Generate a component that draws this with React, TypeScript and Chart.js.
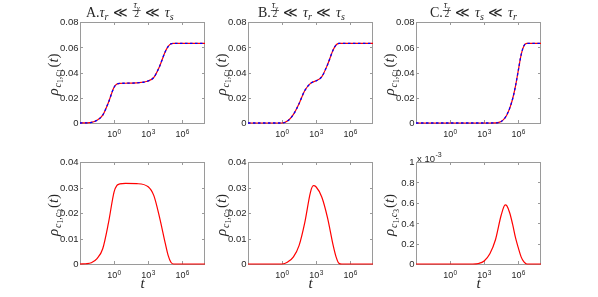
import React, { useEffect, useRef } from "react";
import { Chart, registerables } from "chart.js";

Chart.register(...registerables);

const W = 598;
const H = 297;
const SERIF = '"Liberation Serif", "DejaVu Serif", serif';
const SANS = '"Liberation Sans", Arial, sans-serif';

// ---------- data ----------
// time points (t) per column
const tA = [1e-3, 3.16e-3, 1e-2, 3.16e-2, 0.1, 0.316, 1, 1.78, 3.16, 10, 100, 1e3, 3.16e3, 1e4, 3.16e4, 5.62e4, 1e5, 1.78e5, 3.16e5, 1e6, 1e8];
const tB = [1e-3, 1, 3.16, 10, 31.6, 100, 316, 562, 1e3, 3.16e3, 1e4, 3.16e4, 5.62e4, 1e5, 1.78e5, 3.16e5, 1e8];
const tC = [1e-3, 100, 316, 1e3, 3.16e3, 1e4, 3.16e4, 7.08e4, 1e5, 1.78e5, 3.16e5, 5.62e5, 1e6, 1.78e6, 3.16e6, 5.62e6, 1e7, 1e8];

// rho_{c1,c1}(t)
const rhoA11 = [0, 0.0001, 0.0005, 0.0022, 0.0062, 0.0162, 0.0283, 0.0308, 0.0314, 0.0315, 0.0318, 0.0333, 0.0362, 0.0448, 0.0565, 0.0605, 0.0627, 0.0631, 0.0631, 0.0631, 0.0631];
const rhoB11 = [0, 0, 0.0017, 0.0068, 0.0154, 0.0258, 0.0314, 0.0326, 0.0334, 0.0368, 0.0462, 0.058, 0.0618, 0.063, 0.0631, 0.0631, 0.0631];
const rhoC11 = [0, 0, 0, 0, 0, 0.0001, 0.0012, 0.0043, 0.0065, 0.0118, 0.019, 0.029, 0.0415, 0.054, 0.0612, 0.063, 0.0631, 0.0631];

// rho_{c1,c3}(t)
const rhoA13 = [0, 0.0001, 0.0005, 0.0021, 0.006, 0.016, 0.0283, 0.0308, 0.0314, 0.0316, 0.0315, 0.0303, 0.0268, 0.0183, 0.0082, 0.0035, 0.0007, 0, 0, 0, 0];
const rhoB13 = [0, 0, 0.0008, 0.0028, 0.0073, 0.0163, 0.0282, 0.0307, 0.0302, 0.0262, 0.0181, 0.0072, 0.0028, 0.0003, 0, 0, 0];
const rhoC13 = [0, 0, 0.000005, 0.00003, 0.0001, 0.00024, 0.00048, 0.00058, 0.00057, 0.0005, 0.00039, 0.00026, 0.00016, 0.00007, 0.00002, 0, 0, 0];

// axes
const xMin = 1e-3;
const xMax = 1e8;
const xTickValues = [1, 1e3, 1e6];
const xTickExponents = ["0", "3", "6"];
const yTicksTop = [0, 0.02, 0.04, 0.06, 0.08];
const yTickLabelsTop = ["0", "0.02", "0.04", "0.06", "0.08"];
const yTicksBottom = [0, 0.01, 0.02, 0.03, 0.04];
const yTickLabelsBottom = ["0", "0.01", "0.02", "0.03", "0.04"];
const yTicksBottomC = [0, 0.0002, 0.0004, 0.0006, 0.0008, 0.001];
const yTickLabelsBottomC = ["0", "0.2", "0.4", "0.6", "0.8", "1"];

const titleA = ["A.", "tau_r", "ll", "frac", "ll", "tau_s"];
const titleB = ["B.", "frac", "ll", "tau_r", "ll", "tau_s"];
const titleC = ["C.", "frac", "ll", "tau_s", "ll", "tau_r"];

type Panel = {
  l: number; t: number; r: number; b: number;
  times: number[];
  values: number[];
  dual: boolean;
  yMax: number;
  yTicks: number[];
  yTickLabels: string[];
  title?: string[];
  titleX?: number;
  subIndex: string;
  xlabel: boolean;
  exponent?: string;
};

const TOP_T = 22, TOP_B = 123, BOT_T = 162, BOT_B = 264;
const COLS = [[80, 205], [248, 373], [416, 541]];

const panels: Panel[] = [
  { l: COLS[0][0], r: COLS[0][1], t: TOP_T, b: TOP_B, times: tA, values: rhoA11, dual: true, yMax: 0.08, yTicks: yTicksTop, yTickLabels: yTickLabelsTop, title: titleA, titleX: 86, subIndex: "1", xlabel: false },
  { l: COLS[1][0], r: COLS[1][1], t: TOP_T, b: TOP_B, times: tB, values: rhoB11, dual: true, yMax: 0.08, yTicks: yTicksTop, yTickLabels: yTickLabelsTop, title: titleB, titleX: 258, subIndex: "1", xlabel: false },
  { l: COLS[2][0], r: COLS[2][1], t: TOP_T, b: TOP_B, times: tC, values: rhoC11, dual: true, yMax: 0.08, yTicks: yTicksTop, yTickLabels: yTickLabelsTop, title: titleC, titleX: 430, subIndex: "1", xlabel: false },
  { l: COLS[0][0], r: COLS[0][1], t: BOT_T, b: BOT_B, times: tA, values: rhoA13, dual: false, yMax: 0.04, yTicks: yTicksBottom, yTickLabels: yTickLabelsBottom, subIndex: "3", xlabel: true },
  { l: COLS[1][0], r: COLS[1][1], t: BOT_T, b: BOT_B, times: tB, values: rhoB13, dual: false, yMax: 0.04, yTicks: yTicksBottom, yTickLabels: yTickLabelsBottom, subIndex: "3", xlabel: true },
  { l: COLS[2][0], r: COLS[2][1], t: BOT_T, b: BOT_B, times: tC, values: rhoC13, dual: false, yMax: 0.001, yTicks: yTicksBottomC, yTickLabels: yTickLabelsBottomC, subIndex: "3", xlabel: true, exponent: "-3" },
];

const TEXT = "#262626";
const FRAME = "#9a9a9a";

function seg(ctx: CanvasRenderingContext2D, text: string, font: string, x: number, y: number, draw: boolean) {
  ctx.font = font;
  if (draw) ctx.fillText(text, x, y);
  return ctx.measureText(text).width;
}

function renderTitle(ctx: CanvasRenderingContext2D, tokens: string[], x0: number, base: number, draw: boolean) {
  let x = x0;
  for (const tok of tokens) {
    if (tok === "ll") {
      x += 4.5;
      x += seg(ctx, "≪", `14px ${SERIF}`, x, base, draw);
      x += 4.5;
    } else if (tok === "frac") {
      ctx.font = `italic 9.5px ${SERIF}`;
      const wt = ctx.measureText("τ").width;
      ctx.font = `italic 7px ${SERIF}`;
      const wg = ctx.measureText("γ").width;
      ctx.font = `9.5px ${SERIF}`;
      const wd = ctx.measureText("2").width;
      const wn = wt + wg;
      const w = Math.max(wn, wd) + 2;
      if (draw) {
        const nx = x + (w - wn) / 2;
        seg(ctx, "τ", `italic 9.5px ${SERIF}`, nx, base - 8.5, true);
        seg(ctx, "γ", `italic 7px ${SERIF}`, nx + wt, base - 7, true);
        ctx.fillRect(x, base - 6.3, w, 0.7);
        seg(ctx, "2", `9.5px ${SERIF}`, x + (w - wd) / 2, base + 0.8, true);
      }
      x += w;
    } else if (tok.startsWith("tau_")) {
      x += seg(ctx, "τ", `italic 14px ${SERIF}`, x, base, draw);
      x += seg(ctx, tok.slice(4), `italic 10px ${SERIF}`, x, base + 3, draw);
    } else {
      x += seg(ctx, tok, `14px ${SERIF}`, x, base, draw);
    }
  }
  return x - x0;
}

function renderYLabel(ctx: CanvasRenderingContext2D, subIndex: string, x0: number, base: number, draw: boolean) {
  const parts: [string, string, number][] = [
    ["ρ", `italic 15px ${SERIF}`, 0],
    ["c", `italic 10px ${SERIF}`, 3.5],
    ["1", `7.5px ${SERIF}`, 5.2],
    [",", `10px ${SERIF}`, 3.5],
    ["c", `italic 10px ${SERIF}`, 3.5],
    [subIndex, `7.5px ${SERIF}`, 5.2],
    ["(", `15px ${SERIF}`, 0],
    ["t", `italic 15px ${SERIF}`, 0],
    [")", `15px ${SERIF}`, 0],
  ];
  let x = x0;
  parts.forEach(([txt, font, dy], i) => {
    x += seg(ctx, txt, font, x, base + dy, draw);
    if (i === 0 || i === 5) x += 1;
  });
  return x - x0;
}

function makePlugin(p: Panel) {
  return {
    id: "matlabAxes",
    beforeDatasetsDraw(chart: any) {
      const ctx: CanvasRenderingContext2D = chart.ctx;
      const { left, right, top, bottom } = chart.chartArea;
      const xs = chart.scales.x;
      const ys = chart.scales.y;
      ctx.save();
      // frame
      ctx.strokeStyle = FRAME;
      ctx.lineWidth = 1;
      ctx.strokeRect(left + 0.5, top + 0.5, right - left - 1, bottom - top);
      // ticks
      ctx.beginPath();
      xTickValues.forEach((v) => {
        const px = Math.round(xs.getPixelForValue(v)) + 0.5;
        ctx.moveTo(px, bottom); ctx.lineTo(px, bottom - 3);
        ctx.moveTo(px, top); ctx.lineTo(px, top + 3);
      });
      p.yTicks.forEach((v) => {
        const py = Math.round(ys.getPixelForValue(v)) + 0.5;
        ctx.moveTo(left, py); ctx.lineTo(left + 3, py);
        ctx.moveTo(right, py); ctx.lineTo(right - 3, py);
      });
      ctx.stroke();

      ctx.fillStyle = TEXT;
      ctx.textBaseline = "alphabetic";
      // y tick labels
      ctx.textAlign = "right";
      ctx.font = `9.5px ${SANS}`;
      p.yTicks.forEach((v, i) => {
        const py = ys.getPixelForValue(v);
        ctx.fillText(p.yTickLabels[i], left - 1.5, py + 3.4);
      });
      // x tick labels 10^k
      ctx.textAlign = "left";
      xTickValues.forEach((v, i) => {
        const px = xs.getPixelForValue(v);
        ctx.font = `9px ${SANS}`;
        const wb = ctx.measureText("10").width;
        ctx.font = `6.5px ${SANS}`;
        const ws = ctx.measureText(xTickExponents[i]).width;
        const x0 = px - (wb + ws) / 2;
        seg(ctx, "10", `9px ${SANS}`, x0, bottom + 14, true);
        seg(ctx, xTickExponents[i], `6.5px ${SANS}`, x0 + wb + 0.3, bottom + 10.5, true);
      });
      // y label (rotated)
      ctx.save();
      const cy = (top + bottom) / 2 + 2;
      ctx.translate(left - 22.5, cy);
      ctx.rotate(-Math.PI / 2);
      const wl = renderYLabel(ctx, p.subIndex, 0, 0, false);
      renderYLabel(ctx, p.subIndex, -wl / 2, 0, true);
      ctx.restore();
      // title
      if (p.title) {
        renderTitle(ctx, p.title, p.titleX ?? left, top - 5.5, true);
      }
      // x label
      if (p.xlabel) {
        ctx.textAlign = "center";
        ctx.font = `italic 15px ${SERIF}`;
        ctx.fillText("t", (left + right) / 2, bottom + 24);
        ctx.textAlign = "left";
      }
      // exponent note
      if (p.exponent) {
        const w10 = seg(ctx, "x 10", `9.5px ${SANS}`, left + 1, top - 0.5, true);
        seg(ctx, p.exponent, `7px ${SANS}`, left + 1 + w10 + 0.5, top - 5, true);
      }
      ctx.restore();
    },
  };
}

function makeConfig(p: Panel): any {
  const pts = p.times.map((x, j) => ({ x, y: p.values[j] }));
  const datasets: any[] = [];
  if (p.dual) {
    datasets.push({
      data: pts, borderColor: "rgb(0,0,255)", borderWidth: 1.3, borderDash: [2.5, 2.5],
      pointRadius: 0, fill: false, cubicInterpolationMode: "monotone", clip: 4, order: 0,
    });
  }
  datasets.push({
    data: pts, borderColor: "rgb(255,0,0)", borderWidth: 1.2,
    pointRadius: 0, fill: false, cubicInterpolationMode: "monotone", clip: 4, order: 1,
  });
  return {
    type: "line",
    data: { datasets },
    options: {
      animation: false,
      responsive: false,
      maintainAspectRatio: false,
      events: [],
      layout: { padding: { left: p.l, top: p.t, right: W - p.r, bottom: H - p.b } },
      plugins: { legend: { display: false }, tooltip: { enabled: false }, title: { display: false } },
      scales: {
        x: { type: "logarithmic", min: xMin, max: xMax, display: false },
        y: { type: "linear", min: 0, max: p.yMax, display: false },
      },
      elements: { point: { radius: 0 } },
    },
    plugins: [makePlugin(p)],
  };
}

export default function App() {
  const refs = useRef<(HTMLCanvasElement | null)[]>([]);
  useEffect(() => {
    const charts = panels.map((p, i) => new Chart(refs.current[i] as HTMLCanvasElement, makeConfig(p)));
    return () => charts.forEach((c) => c.destroy());
  }, []);
  return (
    <div style={{ position: "absolute", left: 0, top: 0, width: W, height: H, background: "#fff" }}>
      {panels.map((_, i) => (
        <canvas
          key={i}
          ref={(el) => { refs.current[i] = el; }}
          width={W}
          height={H}
          style={{ position: "absolute", left: 0, top: 0, width: W, height: H }}
        />
      ))}
    </div>
  );
}
